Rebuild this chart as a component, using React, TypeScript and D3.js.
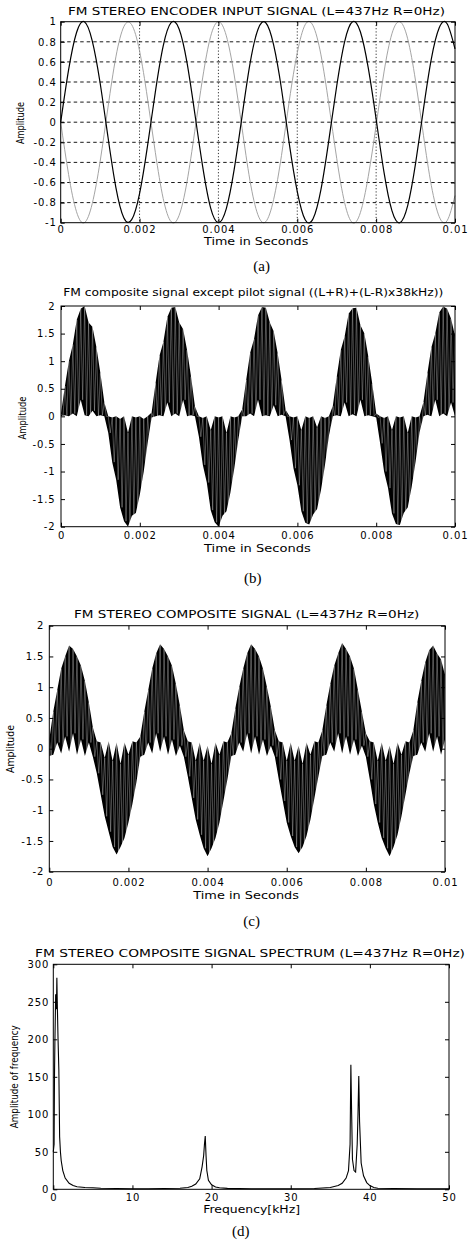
import React, { useRef, useEffect } from "react";
import * as d3 from "d3";

const W = 471;
const H = 1240;
const SANS = "'DejaVu Sans', 'Liberation Sans', sans-serif";
const SERIF = "'Liberation Serif', 'Times New Roman', serif";

// (a) encoder input, sampled every 0.2 ms
const inputStep = 0.0002;
const leftChannel = [
  0, 0.52, 0.89, 1.0, 0.81, 0.39, -0.15, -0.65, -0.95, -0.97,
  -0.71, -0.24, 0.3, 0.76, 0.99, 0.93, 0.6, 0.09, -0.44, -0.85,
  -1.0, -0.86, -0.47, 0.06, 0.58, 0.92, 0.99, 0.77, 0.33, -0.22,
  -0.69, -0.97, -0.96, -0.67, -0.18, 0.36, 0.8, 1.0, 0.9, 0.54,
  0.03, -0.5, -0.88, -1.0, -0.83, -0.41, 0.13, 0.63, 0.94, 0.98,
  0.73,
];
const rightChannel = [
  0, -0.52, -0.89, -1.0, -0.81, -0.39, 0.15, 0.65, 0.95, 0.97,
  0.71, 0.24, -0.3, -0.76, -0.99, -0.93, -0.6, -0.09, 0.44, 0.85,
  1.0, 0.86, 0.47, -0.06, -0.58, -0.92, -0.99, -0.77, -0.33, 0.22,
  0.69, 0.97, 0.96, 0.67, 0.18, -0.36, -0.8, -1.0, -0.9, -0.54,
  -0.03, 0.5, 0.88, 1.0, 0.83, 0.41, -0.13, -0.63, -0.94, -0.98,
  -0.73,
];
const ampTicksA = [-1, -0.8, -0.6, -0.4, -0.2, 0, 0.2, 0.4, 0.6, 0.8, 1];
const ampLabelsA = ["-1", "-0.8", "-0.6", "-0.4", "-0.2", "0", "0.2", "0.4", "0.6", "0.8", "1"];
const timeTicks = [0, 0.002, 0.004, 0.006, 0.008, 0.01];
const timeLabels = ["0", "0.002", "0.004", "0.006", "0.008", "0.01"];

// (b) and (c) composite signals: upper / lower swing every 0.1 ms
const compStep = 0.0001;
const noPilotHigh = [
  0.05, 0.55, 1.0, 1.3, 1.75, 1.95, 2.0, 1.7, 1.62, 1.25,
  0.78, 0.25, 0.0, -0.02, 0.0, -0.05, 0.0, -0.3, 0.0, -0.02,
  0.0, -0.05, 0.0, 0.07, 0.6, 1.1, 1.35, 1.8, 1.97, 1.98,
  1.7, 1.58, 1.2, 0.72, 0.18, 0.0, -0.03, 0.0, -0.25, 0.0,
  -0.02, 0.0, -0.3, 0.0, -0.02, 0.0, 0.13, 0.66, 1.15, 1.4,
  1.83, 1.98, 1.97, 1.7, 1.54, 1.14, 0.65, 0.12, 0.0, -0.02,
  0.0, -0.25, 0.0, -0.03, 0.0, -0.2, 0.0, -0.03, 0.0, 0.19,
  0.72, 1.2, 1.45, 1.86, 1.96, 1.97, 1.65, 1.5, 1.08, 0.59,
  0.05, 0.0, -0.03, 0.0, -0.25, 0.0, -0.02, 0.0, -0.3, 0.0,
  -0.02, 0.0, 0.26, 0.78, 1.25, 1.5, 1.88, 1.99, 1.95, 1.77,
  1.46,
];
const noPilotLow = [
  0, 0.02, 0, 0.05, 0, 0.3, 0.02, 0, 0.1, 0,
  0.02, 0, -0.3, -0.83, -1.15, -1.65, -1.9, -2.0, -1.8, -1.75,
  -1.42, -1.0, -0.48, -0.02, 0, 0.02, 0, 0.25, 0, 0.05,
  0, 0.3, 0, 0.02, 0, -0.37, -0.88, -1.2, -1.7, -1.92,
  -2.0, -1.8, -1.72, -1.38, -0.93, -0.42, 0, 0, 0.05, 0,
  0.3, 0, 0.02, 0, 0.2, 0, 0.03, 0, -0.43, -0.94,
  -1.25, -1.72, -1.93, -1.96, -1.78, -1.68, -1.33, -0.88, -0.35, 0,
  0.02, 0, 0.25, 0, 0.04, 0, 0.3, 0, 0.02, 0,
  -0.02, -0.49, -1.0, -1.3, -1.76, -1.95, -1.97, -1.75, -1.65, -1.28,
  -0.82, -0.29, 0, 0.03, 0, 0.3, 0, 0.05, 0, 0.25,
  0,
];
const compositeHigh = [
  0.15, 0.6, 0.95, 1.3, 1.5, 1.68, 1.62, 1.5, 1.35, 1.1,
  0.75, 0.35, 0.12, 0.1, -0.15, 0.12, -0.2, 0.1, -0.25, 0.1,
  -0.1, 0.12, 0.1, 0.2, 0.6, 0.95, 1.3, 1.55, 1.7, 1.62,
  1.5, 1.35, 1.05, 0.7, 0.3, 0.12, 0.1, -0.2, 0.1, -0.2,
  0.05, -0.25, 0.1, -0.1, 0.12, 0.1, 0.25, 0.65, 1.0, 1.3,
  1.55, 1.7, 1.62, 1.5, 1.3, 1.0, 0.68, 0.3, 0.12, 0.1,
  -0.2, 0.1, -0.2, 0.05, -0.25, 0.1, -0.1, 0.12, 0.1, 0.3,
  0.7, 1.05, 1.35, 1.55, 1.72, 1.62, 1.5, 1.3, 0.95, 0.6,
  0.25, 0.12, 0.1, -0.2, 0.1, -0.2, 0.05, -0.25, 0.1, -0.1,
  0.12, 0.1, 0.3, 0.75, 1.1, 1.4, 1.6, 1.68, 1.55, 1.45,
  1.2,
];
const compositeLow = [
  -0.12, -0.1, 0.1, -0.08, 0.2, -0.05, 0.25, -0.1, 0.15, -0.12,
  0.1, -0.13, -0.4, -0.75, -1.1, -1.35, -1.6, -1.72, -1.6, -1.45,
  -1.2, -0.9, -0.55, -0.13, -0.1, 0.1, -0.08, 0.25, -0.05, 0.2,
  -0.1, 0.15, -0.12, 0.05, -0.13, -0.45, -0.8, -1.15, -1.4, -1.62,
  -1.75, -1.62, -1.45, -1.2, -0.85, -0.5, -0.12, -0.1, 0.1, -0.05,
  0.25, -0.08, 0.2, -0.1, 0.15, -0.12, 0.05, -0.13, -0.5, -0.85,
  -1.2, -1.42, -1.6, -1.7, -1.6, -1.42, -1.15, -0.8, -0.45, -0.12,
  -0.1, 0.1, -0.05, 0.25, -0.08, 0.2, -0.1, 0.15, -0.12, 0.05,
  -0.13, -0.5, -0.9, -1.2, -1.45, -1.62, -1.75, -1.6, -1.4, -1.1,
  -0.75, -0.4, -0.12, -0.1, 0.1, -0.05, 0.25, -0.05, 0.2, -0.1,
  0.15,
];
const ampTicksB = [-2, -1.5, -1, -0.5, 0, 0.5, 1, 1.5, 2];
const ampLabelsB = ["-2", "-1.5", "-1", "-0.5", "0", "0.5", "1", "1.5", "2"];

// (d) spectrum
const spectrumFreq = [
  0.0, 0.1, 0.15, 0.2, 0.3, 0.4, 0.45, 0.5, 0.6, 0.7, 0.8, 0.9, 1.0, 1.2, 1.5,
  2.0, 2.5, 3.0, 4.0, 5.0, 6.0, 8.0, 10, 12, 14, 16, 17, 17.5, 18, 18.5, 18.8,
  19.0, 19.1, 19.2, 19.3, 19.4, 19.6, 20, 20.5, 21, 22, 25, 30, 33, 35, 36,
  36.5, 37, 37.3, 37.5, 37.6, 37.7, 37.8, 38.0, 38.2, 38.4, 38.5, 38.6, 38.7,
  38.9, 39.2, 39.6, 40, 40.5, 41, 43, 46, 50,
];
const spectrumAmp = [
  50, 60, 150, 195, 260, 240, 282, 250, 200, 160, 70, 50, 38, 25, 15,
  8, 5, 3.5, 2.5, 2, 1.5, 1, 0.8, 0.8, 1, 1.5, 2.5, 4, 7, 14, 30,
  45, 60, 71, 45, 25, 12, 6, 3, 2, 1.2, 0.8, 0.8, 1, 2.5, 5,
  8, 15, 25, 60, 166, 100, 40, 25, 23, 60, 100, 151, 90,
  35, 18, 9, 5, 2.5, 1.5, 1, 0.8, 0.8,
];
const freqTicks = [0, 10, 20, 30, 40, 50];
const freqLabels = ["0", "10", "20", "30", "40", "50"];
const specTicks = [0, 50, 100, 150, 200, 250, 300];
const specLabels = ["0", "50", "100", "150", "200", "250", "300"];

type Box = { left: number; right: number; top: number; bottom: number };

function drawFrame(g, x, y, box: Box, o) {
  g.append("g")
    .attr("transform", `translate(0,${box.bottom})`)
    .call(d3.axisBottom(x).tickValues(o.xTicks).tickFormat((d, i) => o.xLabels[i]).tickSize(-4).tickPadding(o.xPad));
  g.append("g")
    .attr("transform", `translate(0,${box.top})`)
    .call(d3.axisTop(x).tickValues(o.xTicks).tickFormat(() => "").tickSize(-4));
  g.append("g")
    .attr("transform", `translate(${box.left},0)`)
    .call(d3.axisLeft(y).tickValues(o.yTicks).tickFormat((d, i) => o.yLabels[i]).tickSize(-4).tickPadding(o.yPad));
  g.append("g")
    .attr("transform", `translate(${box.right},0)`)
    .call(d3.axisRight(y).tickValues(o.yTicks).tickFormat(() => "").tickSize(-4));
  g.selectAll(".domain").remove();
  g.selectAll(".tick line").attr("stroke", "#000");
  g.selectAll(".tick text")
    .attr("fill", "#000")
    .attr("font-family", SANS)
    .attr("font-size", 10)
    .attr("letter-spacing", 0.9);
  g.append("rect")
    .attr("x", box.left)
    .attr("y", box.top)
    .attr("width", box.right - box.left)
    .attr("height", box.bottom - box.top)
    .attr("fill", "none")
    .attr("stroke", "#000");
}

function label(g, text, x0, x1, baseline, size = 10) {
  g.append("text")
    .attr("x", (x0 + x1) / 2)
    .attr("y", baseline)
    .attr("text-anchor", "middle")
    .attr("font-family", SANS)
    .attr("font-size", size)
    .attr("textLength", x1 - x0)
    .attr("lengthAdjust", "spacingAndGlyphs")
    .text(text);
}

function yLabel(g, text, cx, cy, len) {
  g.append("text")
    .attr("transform", `translate(${cx},${cy}) rotate(-90)`)
    .attr("text-anchor", "middle")
    .attr("dy", "0.35em")
    .attr("font-family", SANS)
    .attr("font-size", 10)
    .attr("textLength", len)
    .attr("lengthAdjust", "spacingAndGlyphs")
    .text(text);
}

function caption(g, text, cx, baseline) {
  g.append("text")
    .attr("x", cx)
    .attr("y", baseline)
    .attr("text-anchor", "middle")
    .attr("font-family", SERIF)
    .attr("font-size", 15)
    .text(text);
}

// alternate upper and lower swings half a sample apart -> carrier strokes
function zigzag(high, low, step) {
  const pts: [number, number][] = [];
  high.forEach((h, i) => {
    pts.push([i * step, h]);
    if (i < high.length - 1) pts.push([i * step + step / 2, low[i]]);
  });
  return pts;
}

export default function App() {
  const svgRef = useRef<SVGSVGElement>(null);

  useEffect(() => {
    const svg = d3.select(svgRef.current);
    svg.selectAll("*").remove();

    // ---------- (a)
    {
      const box = { left: 60.7, right: 455, top: 21.7, bottom: 222.7 };
      const x = d3.scaleLinear().domain([0, 0.01]).range([box.left, box.right]);
      const y = d3.scaleLinear().domain([-1, 1]).range([box.bottom, box.top]);
      const g = svg.append("g");
      g.append("g")
        .selectAll("line")
        .data(ampTicksA.filter((v) => Math.abs(v) < 1))
        .join("line")
        .attr("x1", box.left)
        .attr("x2", box.right)
        .attr("y1", (d) => y(d))
        .attr("y2", (d) => y(d))
        .attr("stroke", "#000")
        .attr("stroke-width", 0.9)
        .attr("stroke-dasharray", "3.5,3");
      g.append("g")
        .selectAll("line")
        .data(timeTicks.slice(1, -1))
        .join("line")
        .attr("x1", (d) => x(d))
        .attr("x2", (d) => x(d))
        .attr("y1", box.top)
        .attr("y2", box.bottom)
        .attr("stroke", "#000")
        .attr("stroke-width", 0.8)
        .attr("stroke-dasharray", "1.2,2");
      const line = d3
        .line<number>()
        .x((d, i) => x(i * inputStep))
        .y((d) => y(d))
        .curve(d3.curveNatural);
      g.append("path")
        .attr("d", line(rightChannel))
        .attr("fill", "none")
        .attr("stroke", "#9a9a9a")
        .attr("stroke-width", 0.9);
      g.append("path")
        .attr("d", line(leftChannel))
        .attr("fill", "none")
        .attr("stroke", "#000")
        .attr("stroke-width", 1.2);
      drawFrame(g, x, y, box, {
        xTicks: timeTicks, xLabels: timeLabels, yTicks: ampTicksA, yLabels: ampLabelsA, xPad: 3, yPad: 4,
      });
      label(g, "FM STEREO ENCODER INPUT SIGNAL (L=437Hz R=0Hz)", 68, 445, 14.5);
      label(g, "Time in Seconds", 204, 308.3, 245);
      yLabel(g, "Amplitude", 20.7, 123, 42);
      caption(g, "(a)", 261.7, 271);
    }

    // ---------- (b) and (c)
    const signalPanel = (box: Box, high, low, t) => {
      const x = d3.scaleLinear().domain([0, 0.01]).range([box.left, box.right]);
      const y = d3.scaleLinear().domain([-2, 2]).range([box.bottom, box.top]);
      const g = svg.append("g");
      const clipId = `clip-${t.id}`;
      g.append("clipPath")
        .attr("id", clipId)
        .append("rect")
        .attr("x", box.left)
        .attr("y", box.top)
        .attr("width", box.right - box.left)
        .attr("height", box.bottom - box.top);
      const plot = g.append("g").attr("clip-path", `url(#${clipId})`);
      const band = d3
        .area<number>()
        .x((d, i) => x(i * compStep))
        .y0((d, i) => y(low[i]))
        .y1((d) => y(d));
      plot.append("path").attr("d", band(high)).attr("fill", "#000");
      const line = d3
        .line<[number, number]>()
        .x((d) => x(d[0]))
        .y((d) => y(d[1]));
      plot.append("path")
        .attr("d", line(zigzag(high, low, compStep)))
        .attr("fill", "none")
        .attr("stroke", "#fff")
        .attr("stroke-opacity", 0.5)
        .attr("stroke-width", 0.6);
      drawFrame(g, x, y, box, {
        xTicks: timeTicks, xLabels: timeLabels, yTicks: ampTicksB, yLabels: ampLabelsB, xPad: t.xPad, yPad: t.yPad,
      });
      label(g, t.title, t.tx0, t.tx1, t.tBase);
      label(g, "Time in Seconds", t.ax0, t.ax1, t.aBase);
      yLabel(g, "Amplitude", t.ycx, t.ycy, t.ylen);
      caption(g, t.cap, t.capX, t.capBase);
    };

    signalPanel({ left: 61, right: 455, top: 306, bottom: 526.7 }, noPilotHigh, noPilotLow, {
      id: "b",
      title: "FM composite signal except pilot signal ((L+R)+(L-R)x38kHz))",
      tx0: 63.3, tx1: 443.3, tBase: 296,
      ax0: 204, ax1: 310.7, aBase: 552,
      ycx: 22.7, ycy: 418, ylen: 43,
      cap: "(b)", capX: 252.7, capBase: 583,
      xPad: 5, yPad: 5.5,
    });

    signalPanel({ left: 49.3, right: 445, top: 625.7, bottom: 871.7 }, compositeHigh, compositeLow, {
      id: "c",
      title: "FM STEREO COMPOSITE SIGNAL (L=437Hz R=0Hz)",
      tx0: 74, tx1: 419.3, tBase: 618,
      ax0: 193.3, ax1: 299, aBase: 899,
      ycx: 10, ycy: 749, ylen: 48,
      cap: "(c)", capX: 251.7, capBase: 926,
      xPad: 7, yPad: 5,
    });

    // ---------- (d)
    {
      const box = { left: 53.3, right: 449, top: 964.3, bottom: 1189.3 };
      const x = d3.scaleLinear().domain([0, 50]).range([box.left, box.right]);
      const y = d3.scaleLinear().domain([0, 300]).range([box.bottom, box.top]);
      const g = svg.append("g");
      const line = d3
        .line<number>()
        .x((d, i) => x(spectrumFreq[i]))
        .y((d) => y(d));
      g.append("path")
        .attr("d", line(spectrumAmp))
        .attr("fill", "none")
        .attr("stroke", "#000")
        .attr("stroke-width", 1.1);
      drawFrame(g, x, y, box, {
        xTicks: freqTicks, xLabels: freqLabels, yTicks: specTicks, yLabels: specLabels, xPad: 5, yPad: 4,
      });
      label(g, "FM STEREO COMPOSITE SIGNAL SPECTRUM (L=437Hz R=0Hz)", 35, 465, 957);
      label(g, "Frequency[kHz]", 203.3, 300, 1213);
      yLabel(g, "Amplitude of frequency", 14, 1076.7, 103);
      caption(g, "(d)", 240.8, 1236);
    }
  }, []);

  return (
    <svg
      ref={svgRef}
      width={W}
      height={H}
      style={{ position: "absolute", left: 0, top: 0, background: "#fff" }}
    />
  );
}
